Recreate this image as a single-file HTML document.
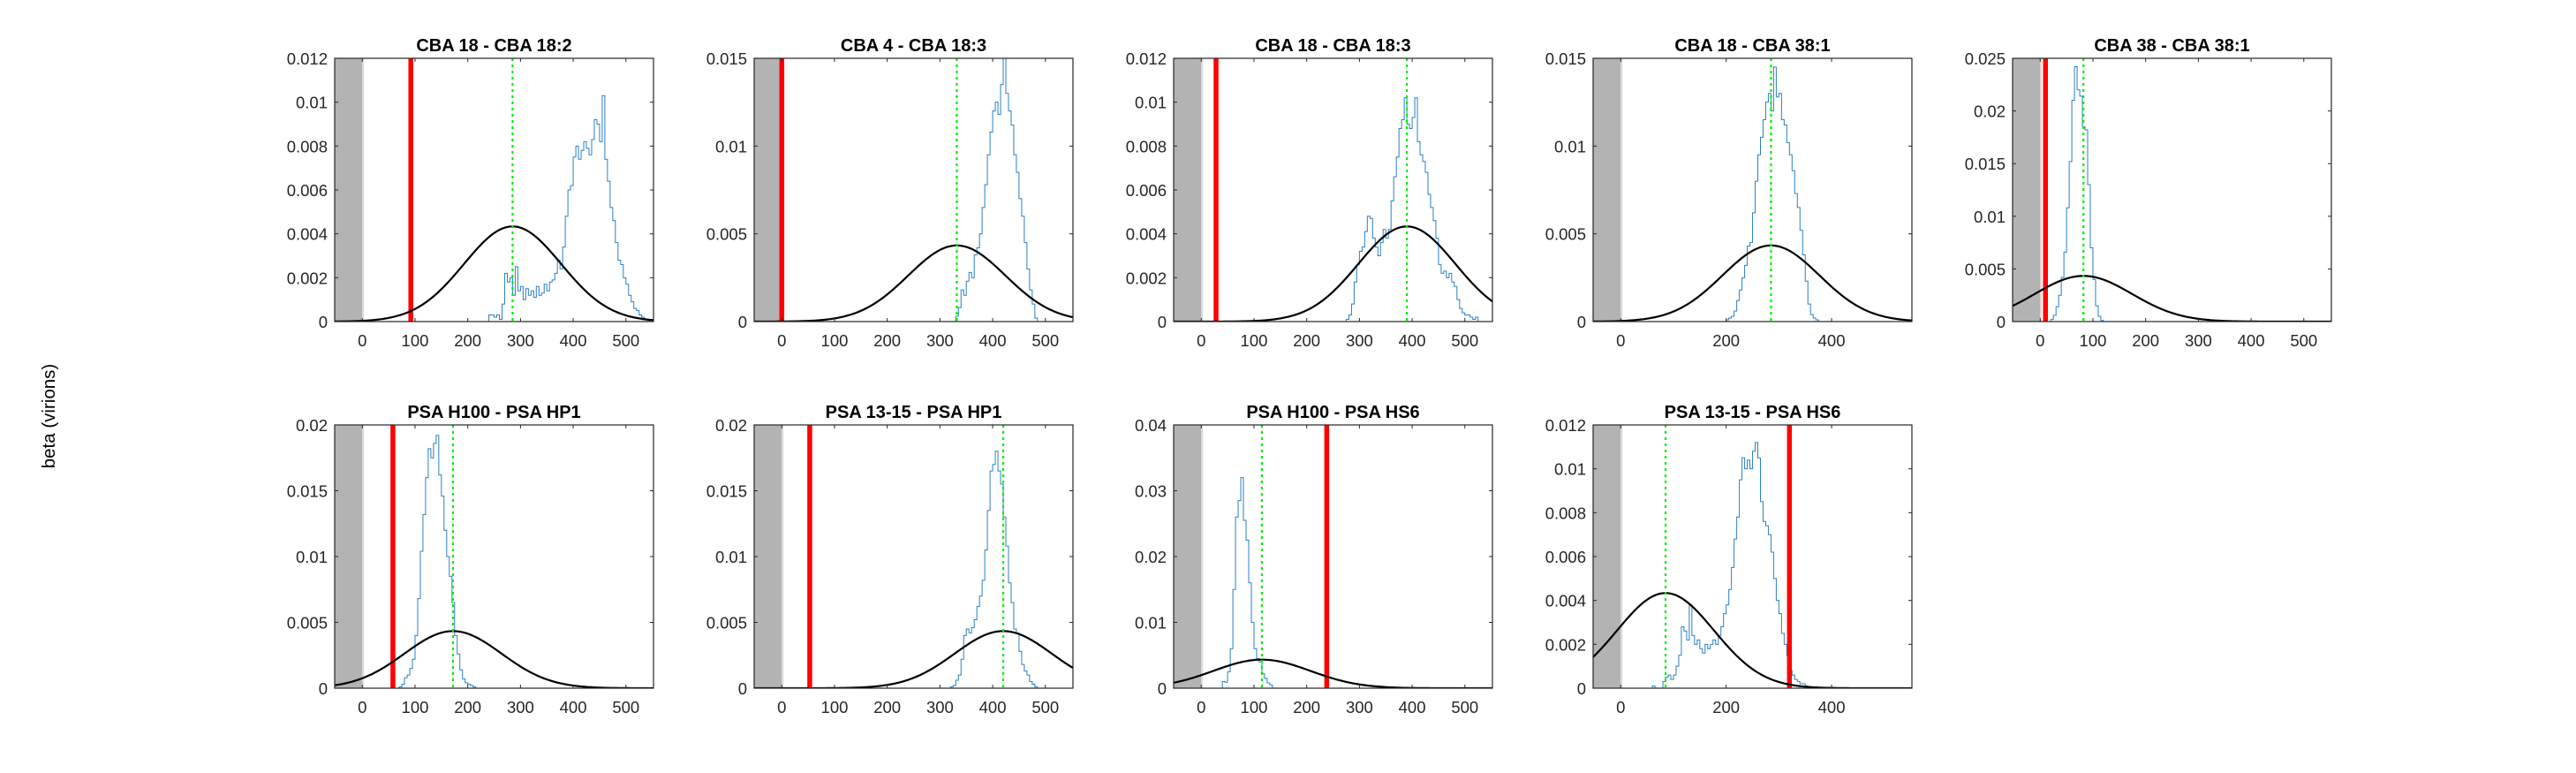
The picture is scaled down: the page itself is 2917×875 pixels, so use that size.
<!DOCTYPE html>
<html><head><meta charset="utf-8"><style>
html,body{margin:0;padding:0;background:#fff;}
svg{display:block;font-family:"Liberation Sans",Arial,sans-serif;}
</style></head><body>
<svg id="fig" width="2917" height="875" viewBox="0 0 2917 875" xmlns="http://www.w3.org/2000/svg">
<rect width="2917" height="875" fill="#fff"/>
<text x="0" y="0" transform="translate(62,471) rotate(-90)" text-anchor="middle" font-size="20.5" fill="#000">beta (virions)</text>
</svg>
<script>
const titles = ["CBA 18 - CBA 18:2","CBA 4 - CBA 18:3","CBA 18 - CBA 18:3","CBA 18 - CBA 38:1","CBA 38 - CBA 38:1","PSA H100 - PSA HP1","PSA 13-15 - PSA HP1","PSA H100 - PSA HS6","PSA 13-15 - PSA HS6"];
const yMax = [0.012,0.015,0.012,0.015,0.025,0.02,0.02,0.04,0.012];
const yStep = [0.002,0.005,0.002,0.005,0.005,0.005,0.005,0.01,0.002];
const yTickLabels = [
 ["0","0.002","0.004","0.006","0.008","0.01","0.012"],
 ["0","0.005","0.01","0.015"],
 ["0","0.002","0.004","0.006","0.008","0.01","0.012"],
 ["0","0.005","0.01","0.015"],
 ["0","0.005","0.01","0.015","0.02","0.025"],
 ["0","0.005","0.01","0.015","0.02"],
 ["0","0.005","0.01","0.015","0.02"],
 ["0","0.01","0.02","0.03","0.04"],
 ["0","0.002","0.004","0.006","0.008","0.01","0.012"]];
const xTicks = [[0,100,200,300,400,500],[0,100,200,300,400,500],[0,100,200,300,400,500],[0,200,400],[0,100,200,300,400,500],[0,100,200,300,400,500],[0,100,200,300,400,500],[0,100,200,300,400,500],[0,200,400]];
const gaussMean = [285,332,390,285,82,172,420,115,85];
const gaussSd = 92;
const redLine = [92,0,28,null,10,58,53,238,320];
const histStart = [240,330,275,200,20,70,320,40,60];
const histBin = 5;
const hist = [
 [0.3,0.3,0.2,0.3,0.1,0.8,2.2,1.8,2.0,1.2,2.5,1.4,1.6,1.0,1.5,1.2,1.4,1.1,1.6,1.2,1.3,1.7,1.4,1.8,1.9,2.2,2.8,2.4,3.4,4.8,6.0,6.2,7.5,8.0,7.4,7.8,8.2,7.9,7.6,8.3,9.2,9.0,8.2,10.3,7.4,6.4,5.2,4.6,3.6,2.8,2.6,2.0,1.7,1.2,0.9,0.6,0.5,0.3,0.2,0.1,0.05,0,0.1],
 [0.3,0.8,1.8,1.5,2.3,2.8,2.5,3.8,4.2,5.0,6.5,7.8,9.5,10.8,12.0,12.5,11.8,13.5,15.0,13.0,12.0,11.2,9.5,8.5,7.0,6.0,4.5,3.0,1.8,1.0,0.2,0],
 [0.1,0.3,0.8,1.8,2.6,3.2,3.4,4.1,4.8,4.7,3.8,3.4,3.0,3.6,4.2,3.8,4.2,5.5,6.6,7.5,8.8,9.2,10.2,9.0,8.8,9.3,10.2,8.2,7.6,7.3,6.8,5.8,5.2,4.6,3.8,2.6,2.2,2.3,2.0,2.2,1.8,1.6,1.0,0.6,0.4,0.3,0.3,0.2,0.1,0.2,0],
 [0.1,0.2,0.3,0.6,1.2,1.8,2.5,3.2,4.3,4.5,6.2,8.0,9.5,10.5,11.5,12.5,13.0,12.0,14.5,12.8,13.0,11.5,11.2,10.2,9.5,8.6,7.3,6.5,5.2,3.8,2.3,1.0,0.4,0.2,0.1,0],
 [0.2,0.6,1.4,2.5,4.2,6.6,10.8,15.2,21.0,24.2,22.0,21.4,18.5,18.2,13.0,7.0,4.0,1.5,0.5,0.1,0],
 [0.1,0.3,0.8,1.0,1.5,2.2,4.0,6.8,10.4,13.2,16.0,18.2,17.5,18.6,19.2,16.2,14.6,12.0,10.0,8.5,6.5,4.0,2.6,1.4,0.7,0.4,0.3,0.2,0.1,0],
 [0.1,0.2,0.6,1.0,2.2,4.0,4.5,4.2,4.6,5.2,6.2,7.0,8.2,10.5,13.5,16.5,17.0,18.0,16.5,15.5,13.0,10.8,8.0,6.5,4.5,4.2,2.8,1.8,1.3,1.0,0.5,0.3,0.1,0],
 [1.0,0.9,2.5,6.0,15.0,26.0,28.5,32.0,25.5,22.5,16.0,10.0,6.0,4.5,4.0,2.2,1.5,0.8,0.5,0],
 [0.1,0,0,0,0.3,0.5,0.6,0.4,0.6,1.0,1.5,2.8,2.6,2.2,3.8,2.4,2.0,2.2,1.8,1.6,2.0,1.8,2.0,2.2,2.0,2.4,2.8,3.4,3.8,4.5,5.5,6.8,7.8,9.5,10.5,10.0,10.4,10.0,10.8,11.2,10.5,8.5,7.6,7.4,7.0,6.2,5.0,4.0,3.4,2.5,2.0,1.5,0.8,0.6,0.4,0.3,0.2,0.2,0.1,0]];

const NS = "http://www.w3.org/2000/svg";
const svg = document.getElementById('fig');
const XMIN = -52.4, XMAX = 552.3, PW = 361, PH = 298;
function mk(tag, attrs, parent){ const e=document.createElementNS(NS,tag); for(const k in attrs) e.setAttribute(k,attrs[k]); parent.appendChild(e); return e; }

for (let p=0;p<9;p++){
  const col = p<5 ? p : p-5, row = p<5?0:1;
  const L = 379 + 475*col, T = row===0 ? 66 : 481, R = L+PW, B = T+PH;
  const sx = v => L + (v - XMIN)/(XMAX-XMIN)*PW;
  const sy = v => B - v/yMax[p]*PH;
  const g = mk('g',{},svg);
  
  
  const clipId='clip'+p;
  const cp = mk('clipPath',{id:clipId},g); mk('rect',{x:L,y:T,width:PW,height:PH},cp);
  const plot = mk('g',{'clip-path':'url(#'+clipId+')'},g);
  const shade = mk('rect',{x:sx(XMIN),y:T,width:sx(0)-sx(XMIN),height:PH,fill:'#b3b3b3'},plot);
  
  
  mk('line',{x1:sx(0)+1,x2:sx(0)+1,y1:T,y2:B,stroke:'#dcdcdc','stroke-width':2},plot);
  let d='';
  const hs=hist[p];
  for(let i=0;i<hs.length;i++){
    const x0=sx(histStart[p]+i*histBin), x1=sx(histStart[p]+(i+1)*histBin), y=sy(hs[i]/1000);
    d += (i===0?'M'+sx(XMIN)+','+sy(0)+'L'+x0+','+sy(0)+'L':'L')+x0+','+y+'L'+x1+','+y;
  }
  d += 'L'+sx(histStart[p]+hs.length*histBin)+','+sy(0)+'L'+sx(XMAX)+','+sy(0);
  const hp = mk('path',{d:d,fill:'none',stroke:'#2a80c6','stroke-width':1},plot);
  
  
  if(redLine[p]!==null){
    const rl = mk('line',{x1:sx(redLine[p]),x2:sx(redLine[p]),y1:T,y2:B,stroke:'#ff0000','stroke-width':5.5},plot);
    
    
  }
  let gd='';
  for(let i=0;i<=200;i++){
    const x = XMIN + (XMAX-XMIN)*i/200;
    const v = Math.exp(-0.5*Math.pow((x-gaussMean[p])/gaussSd,2))/(gaussSd*Math.sqrt(2*Math.PI));
    gd += (i?'L':'M')+sx(x).toFixed(2)+','+sy(v).toFixed(2);
  }
  const gp = mk('path',{d:gd,fill:'none',stroke:'#000','stroke-width':2.2},plot);
  
  
  const ml = mk('line',{x1:sx(gaussMean[p]),x2:sx(gaussMean[p]),y1:T,y2:B,stroke:'#00ee00','stroke-width':2.2,'stroke-dasharray':'3,4'},plot);
  
  
  const box = mk('rect',{x:L,y:T,width:PW,height:PH,fill:'none',stroke:'#262626','stroke-width':1.2},g);
  
  
  xTicks[p].forEach(v=>{
    const x=sx(v);
    mk('line',{x1:x,x2:x,y1:B,y2:B-4,stroke:'#262626','stroke-width':1},g);
    mk('line',{x1:x,x2:x,y1:T,y2:T+4,stroke:'#262626','stroke-width':1},g);
    const t=mk('text',{x:x,y:B+28,'text-anchor':'middle','font-size':18.5,fill:'#262626'},g);
    t.textContent=String(v);
    
    
  });
  yTickLabels[p].forEach((lab,i)=>{
    const y=sy(i*yStep[p]);
    mk('line',{x1:L,x2:L+4,y1:y,y2:y,stroke:'#262626','stroke-width':1},g);
    mk('line',{x1:R,x2:R-4,y1:y,y2:y,stroke:'#262626','stroke-width':1},g);
    const t=mk('text',{x:L-8,y:y+7,'text-anchor':'end','font-size':18.5,fill:'#262626'},g);
    t.textContent=lab;
    
    
  });
  const tt=mk('text',{x:L+PW/2,y:T-8,'text-anchor':'middle','font-size':20,'font-weight':'bold',fill:'#000'},g);
  tt.textContent=titles[p];
  
  
}
</script>
</body></html>
